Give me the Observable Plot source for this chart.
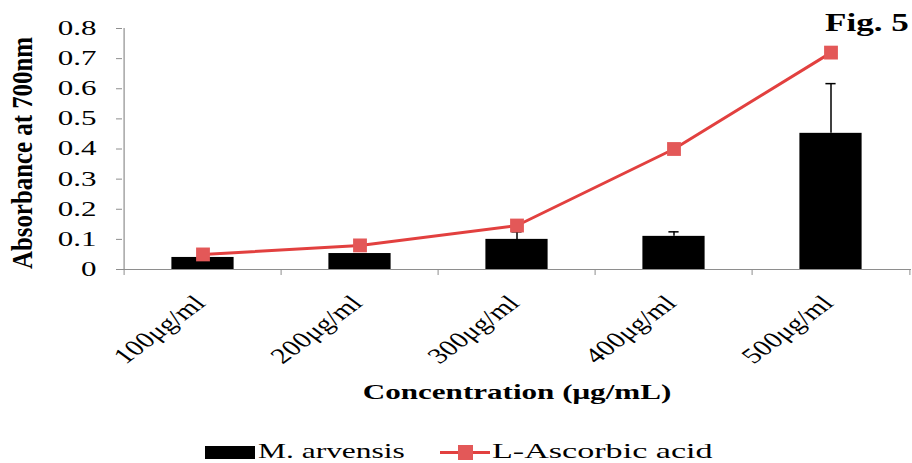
<!DOCTYPE html>
<html>
<head>
<meta charset="utf-8">
<script src="https://cdn.jsdelivr.net/npm/d3@7"></script>
<script src="https://cdn.jsdelivr.net/npm/@observablehq/plot@0.6"></script>
<style>
  body { margin: 0; background: #fff; }
  #wrap { position: relative; width: 912px; height: 463px; font-family: "Liberation Serif", "Times New Roman", serif; color: #000; overflow: hidden; }
  #wrap svg { position: absolute; left: 0; top: 0; font-family: "Liberation Serif", "Times New Roman", serif; }
  .abs { position: absolute; white-space: nowrap; line-height: 1; }
  #ytitle { left: 23px; top: 153px; transform: translate(-50%, -50%) rotate(-90deg) scale(1.13, 1.3); font-weight: bold; font-size: 22px; }
  #xtitle { left: 517px; top: 392px; transform: translate(-50%, -50%) scaleX(1.48); font-weight: bold; font-size: 21px; }
  #fig { left: 825px; top: 10px; transform-origin: 0 0; transform: scaleX(1.35); font-weight: bold; font-size: 26px; }
  .legtext { top: 440px; font-size: 22px; transform-origin: 0 0; }
  #leg1 { left: 258px; transform: scaleX(1.43); }
  #leg2 { left: 492px; transform: scaleX(1.55); }
  #sw1 { left: 205px; top: 446px; width: 50px; height: 13px; background: #000; }
  #sw2line { left: 440px; top: 451px; width: 50px; height: 3px; background: #E2403F; }
  #sw2sq { left: 458px; top: 445px; width: 15px; height: 15px; background: #E35858; }
</style>
</head>
<body>
<div id="wrap"></div>
<script>
const categories = ["100μg/ml", "200μg/ml", "300μg/ml", "400μg/ml", "500μg/ml"];
const arvensis = [0.04, 0.053, 0.10, 0.11, 0.452];
const arvensisErr = [0, 0, 0.025, 0.015, 0.165];
const ascorbic = [0.05, 0.08, 0.146, 0.40, 0.72];
const yTicks = [0, 0.1, 0.2, 0.3, 0.4, 0.5, 0.6, 0.7, 0.8];
const seriesNames = ["M. arvensis", "L-Ascorbic acid"];
const xTitle = "Concentration (μg/mL)";
const yTitle = "Absorbance at 700nm";
const figLabel = "Fig. 5";

const rows = categories.map((c, i) => ({cat: c, arv: arvensis[i], err: arvensisErr[i], asc: ascorbic[i]}));
const errRows = rows.filter(d => d.err > 0);

const W = 912, H = 410, mL = 122, mR = 1, mT = 28, mB = 141;
const step = (W - mL - mR) / categories.length;
const gray = "#8e8e8e";
const barInset = (step - 63) / 2;
const capInset = (step - 11) / 2;

const chart = Plot.plot({
  width: W,
  height: H,
  marginLeft: mL,
  marginRight: mR,
  marginTop: mT,
  marginBottom: mB,
  x: {type: "band", domain: categories, padding: 0},
  y: {domain: [0, 0.8]},
  marks: [
    Plot.axisY({ticks: yTicks, tickFormat: d => String(d), tickSize: 6, tickPadding: 20, label: null, fontSize: 20, stroke: gray}),
    Plot.axisX({tickSize: 0, tickRotate: -45, tickPadding: 30, dx: -3, label: null, fontSize: 22}),
    Plot.axisX(categories, {tickSize: 6, tickFormat: () => "", label: null, dx: -step / 2, stroke: gray}),
    Plot.axisX([categories[categories.length - 1]], {tickSize: 6, tickFormat: () => "", label: null, dx: step / 2, stroke: gray}),
    Plot.ruleX([categories[0]], {x: d => d, y1: 0, y2: 0.8, dx: -step / 2, stroke: gray, strokeWidth: 1.2}),
    Plot.ruleY([0], {stroke: gray, strokeWidth: 1.2}),
    Plot.barY(rows, {x: "cat", y: "arv", fill: "#000", insetLeft: barInset, insetRight: barInset}),
    Plot.ruleX(errRows, {x: "cat", y1: "arv", y2: d => d.arv + d.err, stroke: "#000", strokeWidth: 1.5}),
    Plot.tickY(errRows, {x: "cat", y: d => d.arv + d.err, stroke: "#000", strokeWidth: 1.5, insetLeft: capInset, insetRight: capInset}),
    Plot.line(rows, {x: "cat", y: "asc", stroke: "#E2403F", strokeWidth: 3}),
    Plot.dot(rows, {x: "cat", y: "asc", symbol: "square", r: 7.8, fill: "#E35858", stroke: "none"})
  ]
});

const wrap = document.getElementById("wrap");
wrap.appendChild(chart);

// widen the serif text horizontally, like the reference's stretched picture
function numAttr(el, name) {
  const v = el.getAttribute(name);
  if (!v || /[a-z%]/i.test(v)) return 0;
  const n = parseFloat(v);
  return isFinite(n) ? n : 0;
}
function stretchText(root, selector, sx) {
  root.querySelectorAll(selector).forEach(t => {
    const old = t.getAttribute("transform") || "";
    let m = {a: 1, b: 0, c: 0, d: 1, e: 0, f: 0};
    const tl = t.transform.baseVal;
    if (tl.numberOfItems) m = tl.consolidate().matrix;
    const x = numAttr(t, "x"), y = numAttr(t, "y");
    const ax = m.a * x + m.c * y + m.e, ay = m.b * x + m.d * y + m.f;
    t.setAttribute("transform", `translate(${ax},${ay}) scale(${sx},1) translate(${-ax},${-ay}) ${old}`);
  });
}
try {
  stretchText(chart, 'g[aria-label="y-axis tick label"] text', 1.55);
  stretchText(chart, 'g[aria-label="x-axis tick label"] text', 1.35);
} catch (e) { console.error(e); }

function addDiv(id, text, cls) {
  const d = document.createElement("div");
  d.className = "abs" + (cls ? " " + cls : "");
  d.id = id;
  d.textContent = text;
  wrap.appendChild(d);
  return d;
}
addDiv("ytitle", yTitle);
addDiv("xtitle", xTitle);
addDiv("fig", figLabel);
addDiv("sw1", "");
addDiv("leg1", seriesNames[0], "legtext");
addDiv("sw2line", "");
addDiv("sw2sq", "");
addDiv("leg2", seriesNames[1], "legtext");
</script>
</body>
</html>
